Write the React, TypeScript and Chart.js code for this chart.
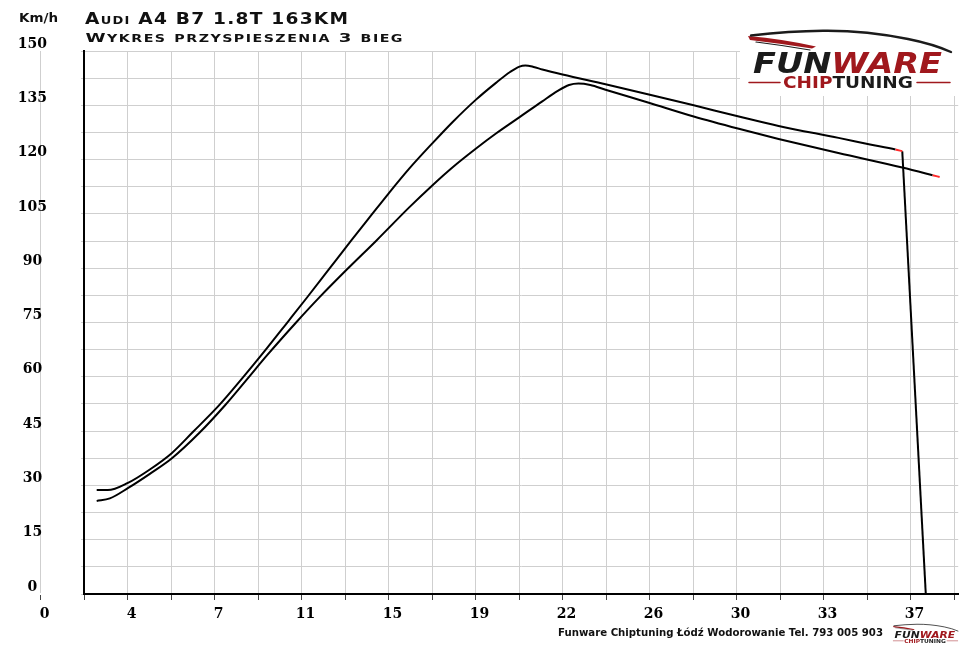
import React, { useEffect, useRef } from 'react';
import { Chart, registerables } from 'chart.js';

Chart.register(...registerables);

// ---- data ----
const upperTime = [2.39, 2.86, 3.72, 4.65, 5.58, 6.49, 7.62, 8.62, 9.58, 10.52, 11.31, 12.22, 13.21, 14.05, 14.81, 15.68, 16.65, 17.53, 18.51, 19.37, 19.97, 20.37, 20.62, 20.97, 21.34, 22.2, 24.03, 25.87, 27.78, 29.7, 31.39, 33.94, 35.28, 36.36, 36.65];
const upperSpeed = [28.7, 28.7, 30.7, 34.4, 38.9, 44.8, 52.3, 59.9, 67.5, 75.2, 81.7, 89.3, 97.6, 104.5, 110.7, 117.5, 124.4, 130.4, 136.5, 141.2, 144.2, 145.7, 146.0, 145.6, 144.9, 143.5, 140.8, 138.0, 135.0, 131.9, 129.3, 126.0, 124.2, 122.8, 122.3];
const upperDropTime = [36.65, 37.65];
const upperDropSpeed = [122.3, 0];
const lowerTime = [2.39, 2.95, 3.73, 4.65, 5.59, 6.77, 7.83, 8.78, 9.63, 10.87, 11.87, 13.07, 14.28, 15.68, 16.65, 17.53, 18.51, 19.37, 20.39, 21.34, 21.98, 22.48, 22.88, 23.38, 24.03, 25.87, 27.78, 29.7, 31.39, 33.93, 36.65, 37.94, 38.24];
const lowerSpeed = [25.7, 26.4, 29.3, 33.2, 37.5, 44.6, 52.0, 59.3, 65.9, 75.0, 82.0, 89.9, 97.6, 106.8, 112.8, 117.9, 123.0, 127.2, 131.8, 136.1, 138.9, 140.6, 141.0, 140.6, 139.3, 135.7, 131.9, 128.5, 125.7, 121.8, 117.8, 115.7, 115.2];

const xTickStep = 1.85;
const xTickLabels = ['0', '4', '7', '11', '15', '19', '22', '26', '30', '33', '37'];
const xTickCount = 22;
const xMin = 1.85;
const xMax = 39.03;
const yMin = 0;
const yMax = 150;
const yGridStep = 7.5;
const yLabelStep = 15;

const titleLine1 = 'Audi A4 B7 1.8T 163KM';
const titleLine2 = 'Wykres przyspieszenia 3 bieg';
const unitLabel = 'Km/h';
const footerText = 'Funware Chiptuning Łódź Wodorowanie Tel. 793 005 903';

const GRID = '#cfcfcf';
const LOGO_RED = '#a0181d';
const LOGO_BLACK = '#1b1b1b';
const END_RED = '#ff2a2a';

function drawSmallCaps(ctx: CanvasRenderingContext2D, text: string, x: number, baseline: number, size: number, ratio: number, targetWidth: number, weight: string, family: string, spacing: number) {
  const items: { c: string; s: number; w: number }[] = [];
  let total = 0;
  for (const ch of text) {
    const isLower = ch !== ch.toUpperCase();
    const s = isLower ? size * ratio : size;
    const c = ch.toUpperCase();
    ctx.font = `${weight} ${s}px ${family}`;
    const w = ctx.measureText(c).width;
    items.push({ c, s, w });
    total += w + spacing;
  }
  total -= spacing;
  const k = targetWidth / total;
  ctx.save();
  ctx.translate(x, baseline);
  ctx.scale(k, 1);
  ctx.textBaseline = 'alphabetic';
  ctx.textAlign = 'left';
  let cx = 0;
  for (const it of items) {
    ctx.font = `${weight} ${it.s}px ${family}`;
    ctx.fillText(it.c, cx, 0);
    cx += it.w + spacing;
  }
  ctx.restore();
}

function drawFitted(ctx: CanvasRenderingContext2D, parts: { t: string; color: string }[], x: number, baseline: number, targetWidth: number, font: string) {
  ctx.save();
  ctx.font = font;
  ctx.textBaseline = 'alphabetic';
  ctx.textAlign = 'left';
  const widths = parts.map((p) => ctx.measureText(p.t).width);
  const total = widths.reduce((a, b) => a + b, 0);
  const k = targetWidth / total;
  ctx.translate(x, baseline);
  ctx.scale(k, 1);
  let cx = 0;
  parts.forEach((p, i) => {
    ctx.fillStyle = p.color;
    ctx.fillText(p.t, cx, 0);
    cx += widths[i];
  });
  ctx.restore();
}

function drawLogo(ctx: CanvasRenderingContext2D, ox: number, oy: number, s: number) {
  ctx.save();
  ctx.translate(ox, oy);
  ctx.scale(s, s);
  // red swoosh
  ctx.fillStyle = LOGO_RED;
  ctx.beginPath();
  ctx.moveTo(0, 6);
  ctx.quadraticCurveTo(35, 9, 68, 16.5);
  ctx.lineTo(64, 18.5);
  ctx.quadraticCurveTo(32, 13.5, 2, 10);
  ctx.closePath();
  ctx.fill();
  // roof line
  ctx.strokeStyle = LOGO_BLACK;
  ctx.lineWidth = 2.4;
  ctx.lineCap = 'round';
  ctx.beginPath();
  ctx.moveTo(3, 5.5);
  ctx.bezierCurveTo(25, 3, 50, 1, 75, 0.8);
  ctx.bezierCurveTo(100, 0.5, 130, 3, 160, 9);
  ctx.quadraticCurveTo(185, 14, 203, 22);
  ctx.stroke();
  ctx.lineWidth = 1.2;
  ctx.beginPath();
  ctx.moveTo(8, 12);
  ctx.quadraticCurveTo(36, 15.5, 62, 20);
  ctx.stroke();
  // FUNWARE
  drawFitted(ctx, [{ t: 'FUN', color: LOGO_BLACK }, { t: 'WARE', color: LOGO_RED }], 5, 43, 189, 'italic bold 28px "DejaVu Sans"');
  // CHIPTUNING
  drawFitted(ctx, [{ t: 'CHIP', color: LOGO_RED }, { t: 'TUNING', color: LOGO_BLACK }], 35, 58, 130, 'bold 15px "DejaVu Sans"');
  ctx.strokeStyle = LOGO_RED;
  ctx.lineWidth = 1.5;
  ctx.beginPath();
  ctx.moveTo(1, 52.5);
  ctx.lineTo(32, 52.5);
  ctx.moveTo(169, 52.5);
  ctx.lineTo(202, 52.5);
  ctx.stroke();
  ctx.restore();
}

const decorPlugin = {
  id: 'decor',
  beforeDatasetsDraw(chart: any) {
    const ctx = chart.ctx as CanvasRenderingContext2D;
    ctx.save();
    ctx.fillStyle = '#ffffff';
    ctx.fillRect(740, 44, 220, 52);
    ctx.restore();
  },
  afterDraw(chart: any) {
    const ctx = chart.ctx as CanvasRenderingContext2D;
    ctx.save();
    ctx.fillStyle = '#111';
    drawSmallCaps(ctx, titleLine1, 85, 24, 15, 0.7, 263, 'bold', '"DejaVu Sans"', 1);
    drawSmallCaps(ctx, titleLine2, 85.5, 42, 12.5, 0.78, 317, 'bold', '"DejaVu Sans"', 1);
    drawFitted(ctx, [{ t: unitLabel, color: '#111' }], 19, 22, 39, 'bold 13px "DejaVu Sans"');
    drawFitted(ctx, [{ t: footerText, color: '#111' }], 558, 635.5, 325, 'bold 11px "DejaVu Sans"');
    drawLogo(ctx, 748, 30, 1);
    drawLogo(ctx, 893, 624, 0.32);
    ctx.restore();
  },
};

export default function App() {
  const ref = useRef<HTMLCanvasElement>(null);
  useEffect(() => {
    if (!ref.current) return;
    const upperRedIdx = upperTime.length - 2;
    const lowerRedIdx = lowerTime.length - 2;
    const xTicks = Array.from({ length: xTickCount }, (_, k) => +(k * xTickStep).toFixed(4));
    const chart = new Chart(ref.current, {
      type: 'line',
      data: {
        datasets: [
          {
            data: upperTime.map((t, i) => ({ x: t, y: upperSpeed[i] })),
            borderColor: '#000',
            borderWidth: 2,
            cubicInterpolationMode: 'monotone',
            pointRadius: 0,
            segment: { borderColor: (c: any) => (c.p0DataIndex === upperRedIdx ? END_RED : undefined) },
          },
          {
            data: upperDropTime.map((t, i) => ({ x: t, y: upperDropSpeed[i] })),
            borderColor: '#000',
            borderWidth: 2,
            tension: 0,
            pointRadius: 0,
          },
          {
            data: lowerTime.map((t, i) => ({ x: t, y: lowerSpeed[i] })),
            borderColor: '#000',
            borderWidth: 2,
            cubicInterpolationMode: 'monotone',
            pointRadius: 0,
            segment: { borderColor: (c: any) => (c.p0DataIndex === lowerRedIdx ? END_RED : undefined) },
          },
        ] as any,
      },
      options: {
        animation: false,
        responsive: false,
        layout: { padding: { top: 51, right: 0, bottom: 0, left: 0 } },
        plugins: { legend: { display: false }, tooltip: { enabled: false }, title: { display: false } },
        scales: {
          x: {
            type: 'linear',
            min: xMin,
            max: xMax,
            afterBuildTicks: (scale: any) => {
              scale.ticks = xTicks.map((v) => ({ value: v }));
            },
            afterFit: (scale: any) => {
              scale.height = 51;
            },
            grid: { color: GRID, lineWidth: 1, tickLength: 6, tickColor: '#444' },
            border: { color: '#000', width: 2 },
            ticks: {
              autoSkip: false,
              maxRotation: 0,
              minRotation: 0,
              padding: 6,
              labelOffset: 4,
              color: '#000',
              font: { family: '"DejaVu Serif"', weight: 'bold', size: 14 },
              callback: (_v: any, i: number) => (i % 2 === 0 ? xTickLabels[i / 2] ?? '' : ''),
            },
          },
          y: {
            type: 'linear',
            min: yMin,
            max: yMax,
            afterFit: (scale: any) => {
              scale.width = 84;
            },
            grid: { color: GRID, lineWidth: 1, tickLength: 3, tickColor: GRID },
            border: { color: '#000', width: 2 },
            ticks: {
              stepSize: yGridStep,
              autoSkip: false,
              padding: 34,
              crossAlign: 'center',
              labelOffset: -7,
              color: '#000',
              font: { family: '"DejaVu Serif"', weight: 'bold', size: 14 },
              callback: (v: any) => (Number(v) % yLabelStep === 0 ? String(v) : ''),
            },
          },
        },
      } as any,
      plugins: [decorPlugin],
    });
    return () => chart.destroy();
  }, []);
  return (
    <div style={{ position: 'fixed', left: 0, top: 0, width: 960, height: 645, background: '#fff' }}>
      <canvas ref={ref} width={960} height={645} style={{ width: 960, height: 645, display: 'block' }} />
    </div>
  );
}
